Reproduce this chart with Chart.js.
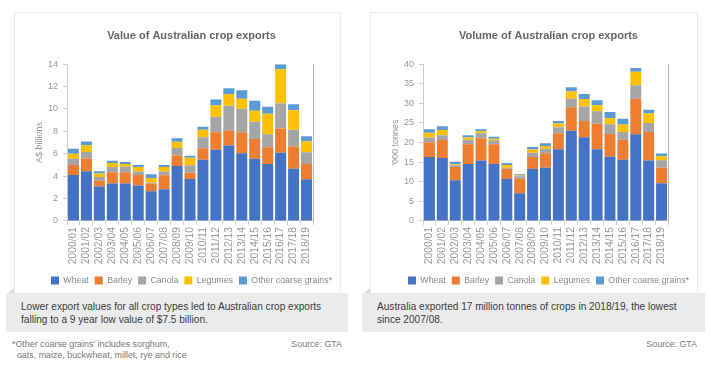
<!DOCTYPE html>
<html>
<head>
<meta charset="utf-8">
<script src="https://cdn.jsdelivr.net/npm/chart.js@4/dist/chart.umd.min.js"></script>
<style>
  html, body { margin: 0; padding: 0; background: #fff; }
  body { width: 711px; height: 366px; position: relative; overflow: hidden;
         font-family: "Liberation Sans", Arial, sans-serif; }
  .card { position: absolute; top: 12px; width: 325px; height: 280px;
          border: 1px solid #ececec; border-bottom: none; background: #fff; }
  canvas { position: absolute; top: 12px; }
  .note { position: absolute; top: 293px; height: 39px; background: #ebebec;
          color: #3c3c3c; font-size: 10.1px; line-height: 13px; padding: 7px 0 0 15px;
          box-sizing: border-box; }
  .fold { position: absolute; top: 288px; width: 0; height: 0;
          border-left: 6px solid transparent; border-bottom: 5px solid #dcdcdc; }
  .foot { position: absolute; top: 339px; color: #777; font-size: 8.9px; line-height: 11px; }
</style>
</head>
<body>
<div class="card" style="left:14px"></div>
<div class="card" style="left:370px;width:326px"></div>
<canvas id="valueChart" width="355" height="283" style="left:14px"></canvas>
<canvas id="volumeChart" width="357" height="283" style="left:370px"></canvas>
<div class="fold" style="left:8px"></div>
<div class="fold" style="left:364px"></div>
<div class="note" style="left:6px;width:342px">Lower export values for all crop types led to Australian crop exports<br>falling to a 9 year low value of $7.5 billion.</div>
<div class="note" style="left:362px;width:343px">Australia exported 17 million tonnes of crops in 2018/19, the lowest<br>since 2007/08.</div>
<div class="foot" style="left:12px">*Other coarse grains' includes sorghum,<br>&nbsp;&nbsp;oats, maize, buckwheat, millet, rye and rice</div>
<div class="foot" style="right:369px">Source: GTA</div>
<div class="foot" style="right:14px">Source: GTA</div>
<script>
const years = ['2000/01', '2001/02', '2002/03', '2003/04', '2004/05', '2005/06', '2006/07',
  '2007/08', '2008/09', '2009/10', '2010/11', '2011/12', '2012/13', '2013/14', '2014/15',
  '2015/16', '2016/17', '2017/18', '2018/19'];
const seriesNames = ['Wheat', 'Barley', 'Canola', 'Legumes', 'Other coarse grains*'];
const seriesColors = ['#4472c4', '#ed7d31', '#a5a5a5', '#ffc000', '#5b9bd5'];

// A$ billions
const valueWheat = [4.1, 4.45, 3.08, 3.35, 3.35, 3.17, 2.65, 2.84, 4.9, 3.75, 5.46, 6.37, 6.74, 6.04, 5.55, 5.09, 6.1, 4.66, 3.72];
const valueBarley = [0.9, 1.13, 0.52, 1.01, 1.01, 0.93, 0.67, 1.25, 0.95, 0.55, 1.03, 1.56, 1.31, 1.89, 1.77, 1.5, 2.16, 1.99, 1.37];
const valueCanola = [0.55, 0.58, 0.33, 0.46, 0.49, 0.32, 0.09, 0.33, 0.67, 0.67, 0.98, 1.37, 2.25, 2.1, 1.55, 1.15, 2.26, 1.49, 1.04];
const valueLegumes = [0.45, 0.61, 0.31, 0.36, 0.24, 0.4, 0.43, 0.4, 0.55, 0.67, 0.67, 1.04, 1.04, 0.88, 0.98, 1.83, 3.02, 1.74, 1.0];
const valueOther = [0.45, 0.33, 0.21, 0.19, 0.18, 0.18, 0.34, 0.18, 0.31, 0.18, 0.27, 0.51, 0.52, 0.77, 0.88, 0.64, 0.46, 0.55, 0.43];

// '000 tonnes (millions)
const volWheat = [16.35, 16.1, 10.4, 14.55, 15.4, 14.55, 10.7, 7.06, 13.35, 13.6, 18.3, 23.0, 21.35, 18.3, 16.4, 15.6, 22.1, 15.4, 9.6];
const volBarley = [3.75, 4.55, 3.4, 5.05, 5.7, 5.05, 2.6, 3.74, 3.0, 3.7, 4.1, 6.0, 4.15, 6.5, 5.8, 5.1, 9.1, 7.3, 4.0];
const volCanola = [1.2, 1.25, 0.4, 1.1, 1.3, 1.0, 0.3, 0.6, 1.05, 1.1, 1.5, 2.2, 3.7, 3.2, 2.5, 2.0, 3.4, 2.3, 1.9];
const volLegumes = [1.2, 1.3, 0.3, 0.6, 0.5, 0.4, 0.7, 0.2, 0.85, 0.7, 1.0, 1.9, 1.9, 1.5, 1.5, 1.9, 3.5, 2.45, 1.0];
const volOther = [0.9, 1.0, 0.6, 0.6, 0.5, 0.5, 0.5, 0.3, 0.65, 0.7, 0.6, 1.0, 1.3, 1.3, 1.6, 1.5, 0.9, 0.95, 0.7];

const fontFamily = '"Liberation Sans", Arial, sans-serif';

function makeChart(id, title, yTitle, yMax, yStep, rightWidth, data) {
  const ctx = document.getElementById(id).getContext('2d');
  return new Chart(ctx, {
    type: 'bar',
    data: {
      labels: years,
      datasets: seriesNames.map((name, i) => ({
        label: name,
        data: data[i],
        backgroundColor: seriesColors[i],
        borderWidth: 0,
        barPercentage: 0.85,
        categoryPercentage: 1.0
      }))
    },
    options: {
      responsive: false,
      animation: false,
      layout: { padding: { left: 0, right: 0, top: 0, bottom: 0 } },
      plugins: {
        title: {
          display: true,
          text: title,
          color: '#666',
          font: { family: fontFamily, size: 11, weight: 'bold' },
          padding: { top: 17, bottom: 22 }
        },
        legend: {
          position: 'bottom',
          labels: {
            boxWidth: 8,
            boxHeight: 8,
            padding: 6,
            color: '#888',
            font: { family: fontFamily, size: 8.8 }
          }
        },
        tooltip: { enabled: false }
      },
      scales: {
        x: {
          stacked: true,
          afterFit: (s) => { s.height += 4; },
          grid: { display: true, drawOnChartArea: false, tickLength: 4, color: '#cfcfcf' },
          border: { color: '#cfcfcf' },
          ticks: { autoSkip: false, maxRotation: 90, minRotation: 90, color: '#999', padding: 2,
                   font: { family: fontFamily, size: 10.3 } }
        },
        y: {
          stacked: true,
          min: 0,
          max: yMax,
          afterFit: (s) => { s.width = 53; },
          grid: { display: true, drawOnChartArea: false, tickLength: 4, color: '#cfcfcf' },
          border: { color: '#cfcfcf' },
          ticks: { stepSize: yStep, color: '#999', padding: 5,
                   font: { family: fontFamily, size: 9 } },
          title: { display: true, text: yTitle, color: '#999', padding: { top: 20, bottom: 2 },
                   font: { family: fontFamily, size: 9 } }
        },
        y2: {
          position: 'right',
          display: true,
          min: 0,
          max: yMax,
          afterFit: (s) => { s.width = rightWidth; },
          grid: { display: false },
          border: { display: true, color: '#b5b5b5' },
          ticks: { display: false }
        }
      }
    }
  });
}

makeChart('valueChart', 'Value of Australian crop exports', 'A$ billions', 14, 2, 56,
  [valueWheat, valueBarley, valueCanola, valueLegumes, valueOther]);
makeChart('volumeChart', 'Volume of Australian crop exports', "'000 tonnes", 40, 5, 59,
  [volWheat, volBarley, volCanola, volLegumes, volOther]);
</script>
</body>
</html>
